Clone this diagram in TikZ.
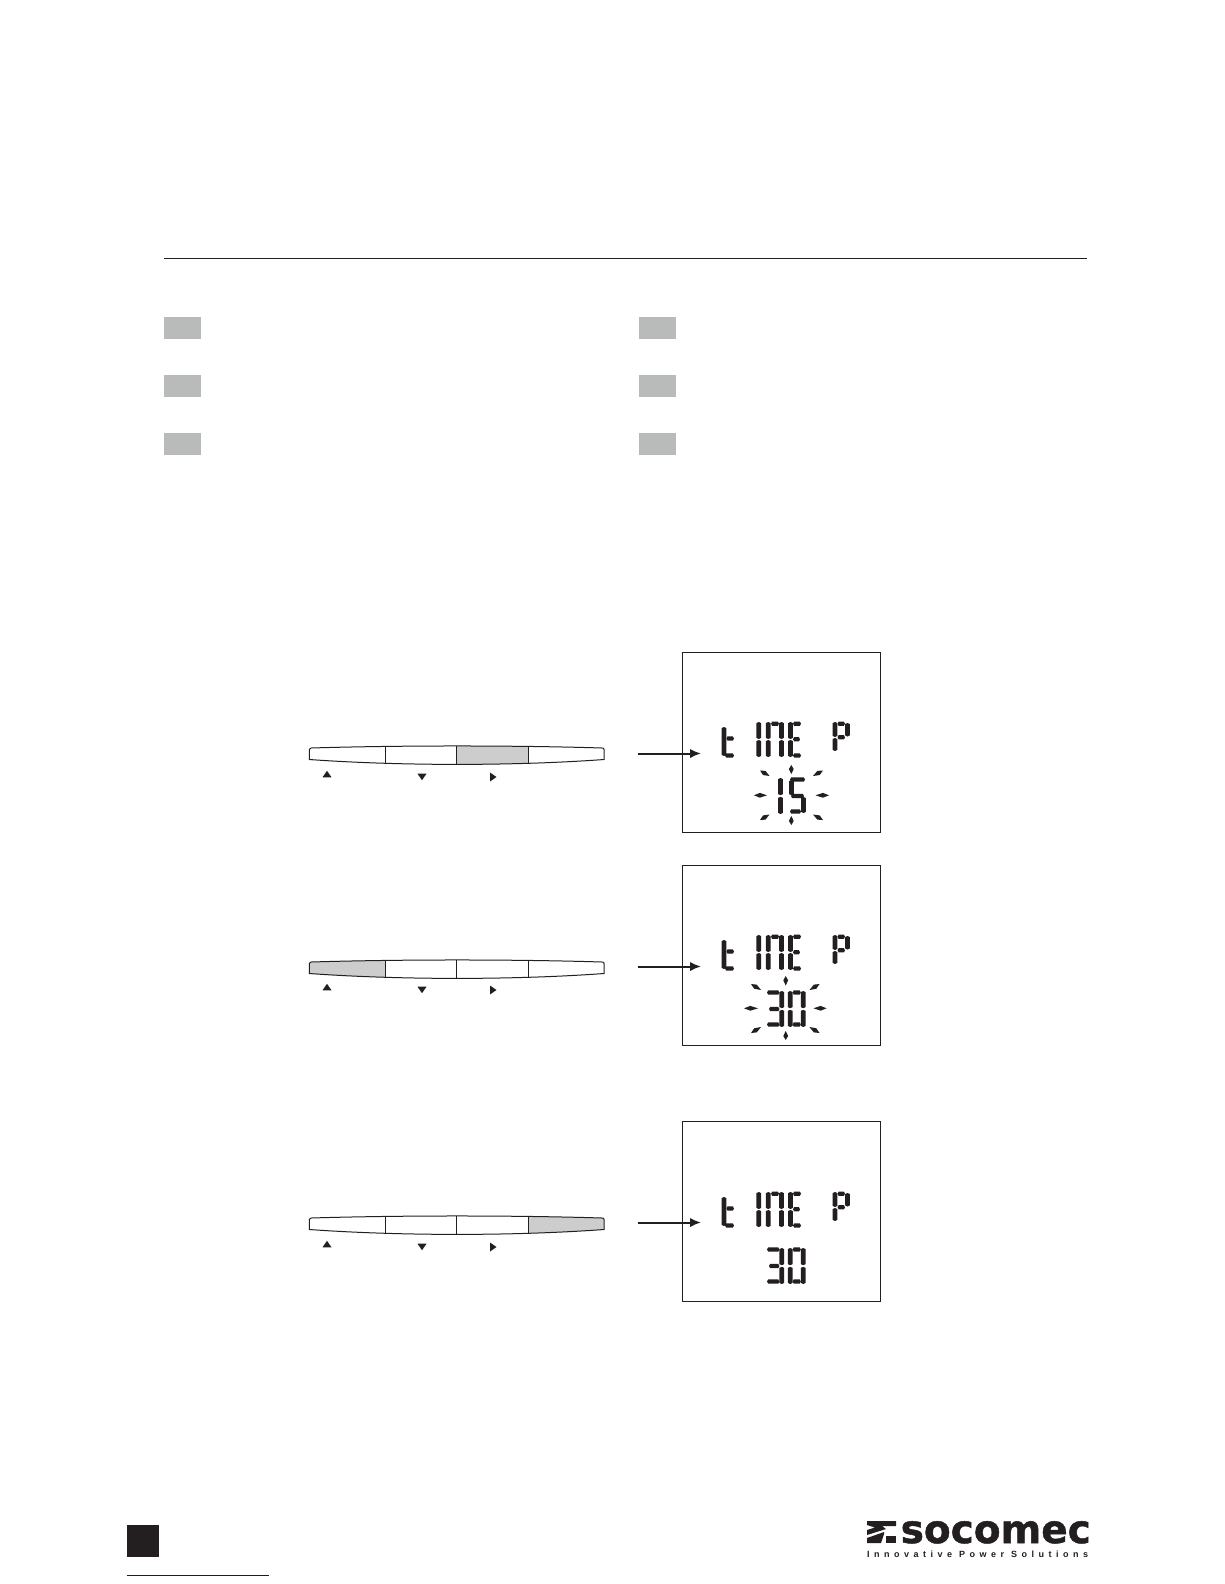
\documentclass[tikz,border=0pt]{standalone}
\usepackage{fontspec}
\setmainfont{Liberation Sans}
\newfontfamily\logofont{DejaVu Sans}[BoldFont={DejaVu Sans Bold},BoldFeatures={FakeBold=1.2}]
\newfontfamily\tagfont{Liberation Sans}[LetterSpace=50]
\usetikzlibrary{arrows.meta,calc}
\definecolor{tabgrey}{HTML}{B9BABA}
\definecolor{keygrey}{HTML}{CDCDCD}
\definecolor{lcdink}{HTML}{231F20}
\definecolor{linkblue}{HTML}{10108A}
\tikzset{
  lcdbox/.style={draw=lcdink,line width=0.9pt,minimum width=198pt,minimum height=180pt,inner sep=0pt,fill=white},
  tabbox/.style={fill=tabgrey,inner sep=0pt,minimum width=37pt,minimum height=22pt},
  keyline/.style={draw=lcdink,line width=1pt},
  keytri/.style={fill=lcdink},
  goarrow/.style={draw=lcdink,line width=2pt,-{Latex[length=11pt,width=9.5pt]}},
  lcdfill/.style={fill=lcdink},
}
% horizontal and vertical LCD segments
\newcommand\hs[3]{\fill[lcdfill] (#1,#3) -- (#1+1.1,#3-2.1) -- (#2-1.1,#3-2.1) -- (#2,#3) -- (#2-1.1,#3+2.1) -- (#1+1.1,#3+2.1) -- cycle;}
\newcommand\vs[3]{\fill[lcdfill] (#1,#2) -- (#1+2.4,#2+1.1) -- (#1+2.4,#3-1.1) -- (#1,#3) -- (#1-2.4,#3-1.1) -- (#1-2.4,#2+1.1) -- cycle;}
% a blink ray: a teardrop from thin (first point) to fat (second point)
\newcommand\ray[4]{\fill[lcdfill] (#1,#2) -- ($(#1,#2)!0.55!(#3,#4)!2.4pt!90:(#3,#4)$) -- (#3,#4) -- ($(#1,#2)!0.55!(#3,#4)!2.4pt!-90:(#3,#4)$) -- cycle;}
% TIME P legend
\newcommand\timep{%
  \vs{724}{727}{756}\hs{726.4}{734}{738.5}\hs{725}{734}{755.5}
  \vs{758.8}{722}{739}\vs{758.8}{740}{757}
  \vs{768.3}{722}{739}\vs{768.3}{740}{757}
  \vs{781.5}{722}{739}\vs{781.5}{740}{757}
  \hs{771}{779}{723.7}
  \vs{790.5}{722}{739}\vs{790.5}{740}{757}
  \hs{793}{801}{723.7}\hs{793}{800}{739.3}\hs{793}{801}{755.5}
  \vs{835}{722}{737}\vs{835}{738}{751}
  \hs{837.5}{845}{723.7}\hs{837.5}{845}{737.3}\vs{847.5}{723}{736.5}
}
\newcommand\numthirty{%
  \hs{767}{779.4}{779.5}\hs{769}{779.4}{796}\hs{767}{779.4}{811.5}
  \vs{781.8}{778}{795.2}\vs{781.8}{796.8}{814}
  \vs{790.2}{778}{795.2}\vs{790.2}{796.8}{814}
  \hs{792.6}{800.8}{779.5}\hs{792.6}{800.8}{811.5}
  \vs{803.2}{778}{795.2}\vs{803.2}{796.8}{814}
}
% key bar: #1 bar shift, #2--#3 shaded key, #4 marker shift
\newcommand\keyoutline{(309.3,749.5) .. controls (309.3,748.3) and (310,748) .. (311,748) .. controls (400,745.3) and (515,745.3) .. (602,748) .. controls (603.3,748) and (604,748.3) .. (604,749.5) -- (604,759.5) .. controls (515,766) and (400,766) .. (309.3,759.5) -- cycle}
\newcommand\keybar[4]{%
  \begin{scope}[yshift=-#1pt]
    \begin{scope}
      \clip \keyoutline;
      \fill[keygrey] (#2,740) rectangle (#3,770);
    \end{scope}
    \draw[keyline] \keyoutline;
    \draw[keyline] (385,746.6) -- (385,763.2);
    \draw[keyline] (456.7,746.2) -- (456.7,764.4);
    \draw[keyline] (528,746.5) -- (528,763.2);
  \end{scope}
  \begin{scope}[yshift=-#4pt]
    \fill[keytri] (322.5,777.3) -- (327,770.8) -- (331.5,777.3) -- cycle;
    \fill[keytri] (417.5,773.7) -- (426.5,773.7) -- (422,780.2) -- cycle;
    \fill[keytri] (490,772.5) -- (490,781.5) -- (496.5,777) -- cycle;
  \end{scope}}
\begin{document}
\begin{tikzpicture}[x=1pt,y=-1pt]
\useasboundingbox (0,0) rectangle (1224,1584);
\fill[white] (0,0) rectangle (1224,1584);
% rule and tabs
\coordinate (ruleL) at (164,258.5);
\coordinate (ruleR) at (1087,258.5);
\draw[draw=lcdink,line width=1pt] (ruleL) -- (ruleR);
\node[tabbox] (t1) at (182.5,328) {};
\node[tabbox] (t2) at (182.5,386) {};
\node[tabbox] (t3) at (182.5,444) {};
\node[tabbox] (t4) at (657.5,328) {};
\node[tabbox] (t5) at (657.5,386) {};
\node[tabbox] (t6) at (657.5,444) {};
% row 1
\keybar{0}{456.7}{528}{0}
\node[lcdbox] (lcdA) at (781,742) {};
\coordinate (a1s) at (637.5,753.5);
\coordinate (a1e) at (701,753.5);
\draw[goarrow] (a1s) -- (a1e);
\timep
\vs{780.5}{778}{795.2}\vs{780.5}{796.8}{814}
\hs{790}{805}{779.5}\vs{791.5}{780}{795.2}\hs{791}{804}{796}\vs{803.5}{797}{813}\hs{790}{801}{811.5}
\ray{791.3}{774}{791.3}{765}
\ray{791.3}{816}{791.3}{825}
\ray{767}{795.3}{754}{795.3}
\ray{815.5}{795.3}{829}{795.3}
\ray{769.5}{776}{760}{770.5}
\ray{813}{776}{823}{770.5}
\ray{769.5}{814.5}{760}{820}
\ray{813}{814.5}{823}{820}
% row 2
\keybar{214}{300}{385}{213}
\node[lcdbox] (lcdB) at (781,955) {};
\coordinate (a2s) at (637.5,966.5);
\coordinate (a2e) at (701,966.5);
\draw[goarrow] (a2s) -- (a2e);
\begin{scope}[yshift=-213pt]
\timep
\numthirty
\ray{785.7}{772.5}{785.7}{763}
\ray{785.7}{818}{785.7}{827}
\ray{758}{795.3}{744}{795.3}
\ray{813.5}{795.3}{826.5}{795.3}
\ray{761}{777}{751}{771}
\ray{809.5}{777}{819.5}{771}
\ray{761}{814}{751}{820}
\ray{809.5}{814}{819.5}{820}
\end{scope}
% row 3
\keybar{470}{528}{610}{470}
\node[lcdbox] (lcdC) at (781,1211.5) {};
\coordinate (a3s) at (637.5,1222.5);
\coordinate (a3e) at (701,1222.5);
\draw[goarrow] (a3s) -- (a3e);
\begin{scope}[yshift=-470pt]
\timep
\numthirty
\end{scope}
% footer
\fill[lcdink] (127,1525) rectangle (159,1557);
\coordinate (linkL) at (127,1575.3);
\coordinate (linkR) at (269,1575.3);
\draw[draw=linkblue,line width=1pt] (linkL) -- (linkR);
% logo mark
\fill[lcdink] (867,1521) -- (896,1521) -- (896,1526) -- (882,1526) -- (886,1529) -- (867,1535) -- (867,1530) -- (875,1527.5) -- (867,1525) -- cycle;
\fill[lcdink] (867,1538) -- (884,1532) -- (884,1534) -- (881,1543) -- (867,1543) -- cycle;
\fill[lcdink] (886,1536) rectangle (896,1543);
\node[inner sep=0pt,anchor=base west,text=lcdink,font=\logofont\bfseries\fontsize{39}{39}\selectfont] (logotxt) at (900.5,1543) {socomec};
\node[inner sep=0pt,anchor=base west,text=lcdink,font=\tagfont\bfseries\fontsize{9}{9}\selectfont] (tagtxt) at (867,1557.3) {Innovative Power Solutions};
\end{tikzpicture}
\end{document}
